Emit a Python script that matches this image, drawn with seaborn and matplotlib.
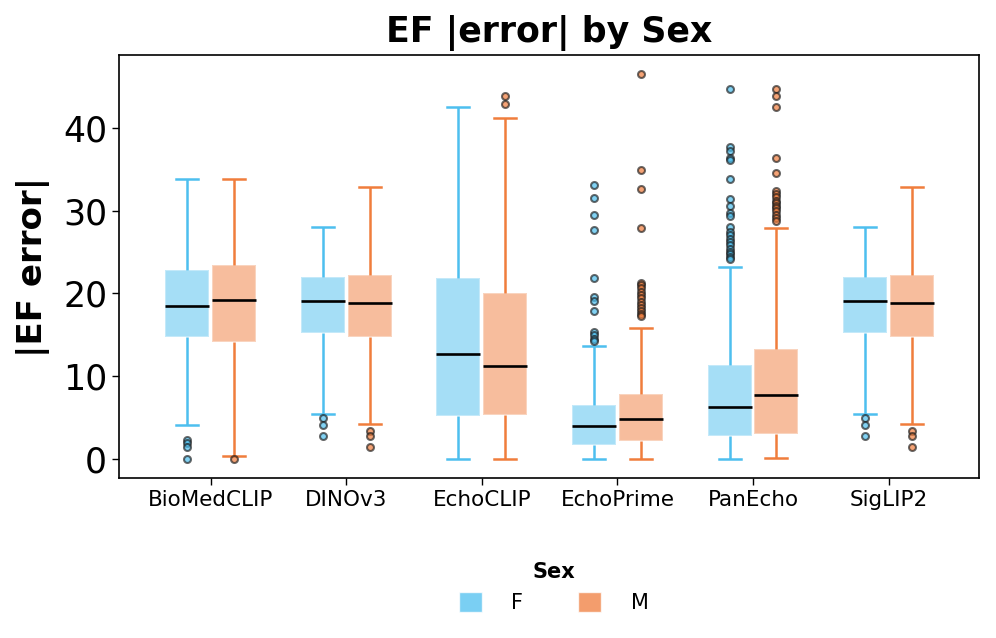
import numpy as np
import pandas as pd
import seaborn as sns
import matplotlib.pyplot as plt
from matplotlib.colors import to_rgb
from matplotlib.patches import Patch, PathPatch

# models on the x axis
models = ['BioMedCLIP', 'DINOv3', 'EchoCLIP', 'EchoPrime', 'PanEcho', 'SigLIP2']
sexes = ['F', 'M']

# box summaries (|EF error|)
f_whislo = [4.1, 5.4, 0.0, 0.0, 0.0, 5.4]
f_q1 = [14.7, 15.2, 5.2, 1.6, 2.8, 15.2]
f_med = [18.4, 19.05, 12.6, 3.9, 6.3, 19.05]
f_q3 = [22.8, 22.0, 21.8, 6.5, 11.3, 22.0]
f_whishi = [33.8, 28.0, 42.5, 13.6, 23.2, 28.0]
f_fliers = [
    [2.3, 1.9, 1.4, 0.0],
    [4.9, 4.1, 2.7],
    [],
    [33.1, 31.5, 29.4, 27.6, 21.9, 19.5, 19.1, 17.9, 15.3, 14.9, 14.5, 14.2],
    [44.7, 37.7, 37.2, 36.3, 36.1, 33.8, 31.4, 30.5, 29.7, 29.3, 28.0, 27.4, 27.0,
     26.6, 26.2, 25.8, 25.4, 25.0, 24.7, 24.4, 24.1],
    [4.9, 4.1, 2.7],
]

m_whislo = [0.3, 4.2, 0.0, 0.0, 0.1, 4.2]
m_q1 = [14.1, 14.7, 5.3, 2.2, 3.0, 14.7]
m_med = [19.15, 18.85, 11.15, 4.8, 7.7, 18.85]
m_q3 = [23.4, 22.25, 20.0, 7.85, 13.25, 22.25]
m_whishi = [33.8, 32.8, 41.2, 15.8, 27.9, 32.8]
m_fliers = [
    [0.0],
    [3.3, 2.8, 1.4],
    [43.9, 42.9],
    [46.5, 34.9, 32.6, 27.9, 21.3, 21.0, 20.6, 20.2, 19.8, 19.4, 19.0, 18.6,
     18.2, 17.8, 17.5, 17.2],
    [44.7, 43.8, 42.5, 36.3, 34.5, 32.4, 32.0, 31.6, 31.2, 30.9, 30.6, 30.3,
     29.9, 29.5, 29.1, 28.7],
    [3.3, 2.8, 1.4],
]

blue = '#4dbfef'
orange = '#f07d3c'
colors = {'F': blue, 'M': orange}


def box_sample(lo, q1, med, q3, hi, fliers):
    # values that reproduce the read quartiles / whiskers / outliers exactly
    low = [v for v in fliers if v < q1] + [lo]
    high = [hi] + [v for v in fliers if v > q3]
    n = 4 * max(len(low), len(high)) + 10
    return low + [q1] * n + [med] * n + [q3] * n + high


rows = []
stats = {'F': (f_whislo, f_q1, f_med, f_q3, f_whishi, f_fliers),
         'M': (m_whislo, m_q1, m_med, m_q3, m_whishi, m_fliers)}
for sex in sexes:
    lo, q1, med, q3, hi, fl = stats[sex]
    for i, model in enumerate(models):
        for v in box_sample(lo[i], q1[i], med[i], q3[i], hi[i], fl[i]):
            rows.append({'Model': model, 'Sex': sex, 'err': v})
df = pd.DataFrame(rows)

plt.rcParams['font.family'] = ['DejaVu Sans']

fig = plt.figure(figsize=(9.96, 6.38), dpi=100)
ax = fig.add_axes([0.1195, 0.2508, 0.8635, 0.663])

sns.boxplot(
    data=df, x='Model', y='err', hue='Sex',
    order=models, hue_order=sexes, palette=colors,
    width=0.69, gap=0.06, linewidth=1.8,
    medianprops=dict(color='black', linewidth=1.9),
    flierprops=dict(marker='o', markersize=5, markeredgewidth=1.5),
    legend=False, ax=ax)


def side(xs):
    # which hue a mark belongs to, from its offset against the category centre
    x = float(np.mean(xs))
    return 'F' if x - round(x) < 0 else 'M'


for p in ax.patches:
    if isinstance(p, PathPatch):
        c = to_rgb(colors[side(p.get_path().vertices[:, 0])])
        p.set_facecolor((*c, 0.5))
        p.set_edgecolor((1, 1, 1, 0.35))
        p.set_linewidth(1.5)

for ln in ax.lines:
    xs = ln.get_xdata()
    if len(xs) == 0:
        continue
    c = to_rgb(colors[side(xs)])
    if ln.get_marker() == 'o':
        ln.set_markerfacecolor((*c, 0.7))
        ln.set_markeredgecolor((0.1, 0.1, 0.1, 0.65))
    elif to_rgb(ln.get_color()) != (0.0, 0.0, 0.0):
        ln.set_color(c)

ax.set_xlim(-0.675, 5.667)
ax.set_ylim(-2.33, 48.8)
ax.set_yticks([0, 10, 20, 30, 40])
ax.set_title('EF |error| by Sex', fontsize=25, fontweight='bold', pad=9)
ax.set_xlabel('')
ax.set_ylabel('|EF error|', fontsize=24.5, fontweight='bold', labelpad=9)
ax.tick_params(axis='y', labelsize=25, length=5, width=1)
ax.tick_params(axis='x', labelsize=15.5, length=5, width=1)
for s in ax.spines.values():
    s.set_color('black')
    s.set_linewidth(1.2)

handles = [Patch(facecolor=colors[s], alpha=0.75, edgecolor='white', label=s)
           for s in sexes]
leg = fig.legend(handles=handles, title='Sex', loc='upper center',
                 bbox_to_anchor=(0.556, 0.149), ncol=2, frameon=False,
                 fontsize=15, title_fontproperties={'weight': 'bold', 'size': 15},
                 handlelength=1.1, handleheight=1.1, handletextpad=1.4,
                 columnspacing=2.65)

fig.savefig('out.png', dpi=100)
